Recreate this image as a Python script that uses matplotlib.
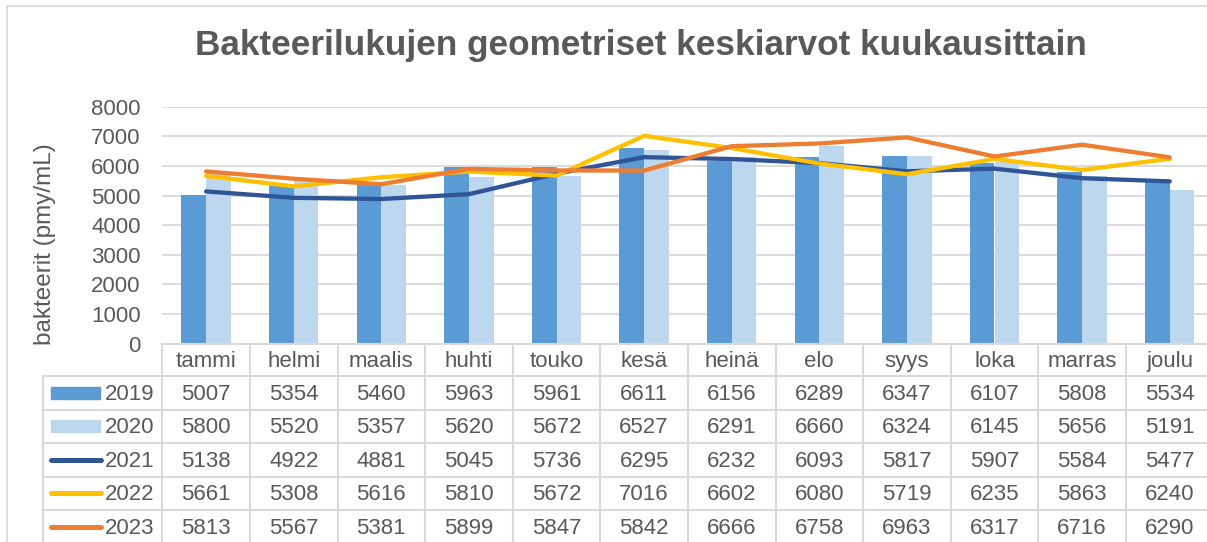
import numpy as np
import matplotlib.pyplot as plt
import matplotlib.transforms as mtransforms
from matplotlib.lines import Line2D
from matplotlib.patches import Rectangle

plt.rcParams['font.family'] = ['Liberation Sans', 'DejaVu Sans']

months = ['tammi', 'helmi', 'maalis', 'huhti', 'touko', 'kesä', 'heinä',
          'elo', 'syys', 'loka', 'marras', 'joulu']
years = ['2019', '2020', '2021', '2022', '2023']
v2019 = [5007, 5354, 5460, 5963, 5961, 6611, 6156, 6289, 6347, 6107, 5808, 5534]
v2020 = [5800, 5520, 5357, 5620, 5672, 6527, 6291, 6660, 6324, 6145, 5656, 5191]
v2021 = [5138, 4922, 4881, 5045, 5736, 6295, 6232, 6093, 5817, 5907, 5584, 5477]
v2022 = [5661, 5308, 5616, 5810, 5672, 7016, 6602, 6080, 5719, 6235, 5863, 6240]
v2023 = [5813, 5567, 5381, 5899, 5847, 5842, 6666, 6758, 6963, 6317, 6716, 6290]
series = [v2019, v2020, v2021, v2022, v2023]
colors = ['#5B9BD5', '#BDD7EE', '#2F5597', '#FFC000', '#ED7D31']

TXT = '#595959'
GRID = '#D9D9D9'
W, H = 1207, 542

fig = plt.figure(figsize=(W / 100, H / 100), dpi=100)

# plot area in pixels
x0, x1 = 162.3, 1213.5
y_top, y_bot = 106.7, 343.5
cw = (x1 - x0) / 12
ax = fig.add_axes([x0 / W, 1 - y_bot / H, (x1 - x0) / W, (y_bot - y_top) / H])

x = np.arange(len(months))
bw = 0.283
ax.bar(x - bw / 2, v2019, bw, color=colors[0], zorder=2)
ax.bar(x + bw / 2, v2020, bw, color=colors[1], zorder=2)
for vals, c in zip(series[2:], colors[2:]):
    ax.plot(x, vals, color=c, lw=3.1, solid_capstyle='round',
            solid_joinstyle='round', zorder=3)

ax.set_xlim(-0.5, 11.5)
ax.set_ylim(0, 8000)
ax.set_yticks(np.arange(0, 8001, 1000))
ax.set_xticks([])
ax.tick_params(axis='y', length=0, pad=15.5, labelsize=16, labelcolor=TXT)
ax.yaxis.grid(True, color=GRID, lw=1.3, zorder=0)
ax.set_axisbelow(True)
for s in ax.spines.values():
    s.set_visible(False)

# data table below the plot
trans = mtransforms.blended_transform_factory(ax.transData, fig.transFigure)


def px2x(px):
    return -0.5 + (px - x0) / cw


def fy(py):
    return 1 - py / H


def tline(xs, ys, **kw):
    ax.add_line(Line2D(xs, [fy(v) for v in ys], transform=trans, clip_on=False,
                       color=GRID, lw=1.5, **kw))


row_edges = [344, 376, 409.5, 443, 476.5, 510, 543.5]
tab_left = px2x(43.3)
tline([-0.5, 12.5], [344, 344])
for ry in row_edges[1:]:
    tline([tab_left, 12.5], [ry, ry])
for k in range(13):
    tline([k - 0.5, k - 0.5], [344, 560])
tline([tab_left, tab_left], [376, 560])

for i, m in enumerate(months):
    ax.text(i, fy(367), m, transform=trans, ha='center', va='baseline',
            fontsize=16, color=TXT)

for r, (yr, vals, c) in enumerate(zip(years, series, colors)):
    yc = (row_edges[r + 1] + row_edges[r + 2]) / 2
    for i, v in enumerate(vals):
        ax.text(i, fy(yc + 7), str(v), transform=trans, ha='center',
                va='baseline', fontsize=16, color=TXT, clip_on=False)
    ax.text(px2x(105), fy(yc + 7), yr, transform=trans, ha='left',
            va='baseline', fontsize=16, color=TXT)
    if r < 2:
        ax.add_patch(Rectangle((px2x(50.7), fy(yc + 6)), px2x(100) - px2x(50.7),
                               12 / H, transform=trans, color=c, clip_on=False))
    else:
        ax.add_line(Line2D([px2x(51), px2x(101)], [fy(yc), fy(yc)],
                           transform=trans, clip_on=False, color=c, lw=3.6,
                           solid_capstyle='round'))

fig.text(641 / W, fy(55), 'Bakteerilukujen geometriset keskiarvot kuukausittain',
         ha='center', va='baseline', fontsize=25.3, fontweight='bold', color=TXT)
fig.text(45 / W, fy(244), 'bakteerit (pmy/mL)', rotation=90, ha='center',
         va='center', fontsize=17.5, color=TXT)

# chart border
fig.add_artist(Line2D([7 / W, 7 / W], [0, fy(6)], transform=fig.transFigure,
                      color=GRID, lw=1.3))
fig.add_artist(Line2D([7 / W, 1], [fy(6), fy(6)], transform=fig.transFigure,
                      color=GRID, lw=1.3))

fig.savefig('out.png', dpi=100)
